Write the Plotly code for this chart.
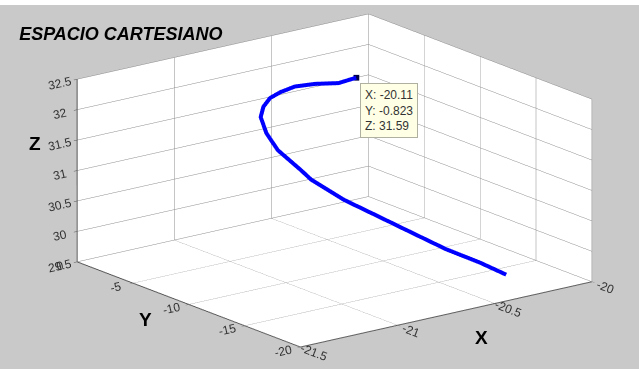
import plotly.graph_objects as go

# Trajectory waypoints in Cartesian space
x_vals = [-20.11, -20.235, -20.39, -20.54, -20.66, -20.76, -20.84, -20.90, -20.94,
          -20.95, -20.90, -20.87, -20.77, -20.66, -20.56, -20.45, -20.35, -20.28]
y_vals = [-0.823, -1.4, -2.0, -2.8, -3.6, -4.4, -5.2, -6.0, -7.2,
          -8.4, -9.6, -10.0, -11.2, -12.4, -13.6, -14.8, -16.0, -17.2]
z_vals = [31.59, 31.63, 31.77, 31.89, 31.94, 31.97, 31.94, 31.87, 31.72,
          31.53, 31.25, 31.10, 30.78, 30.51, 30.26, 29.99, 29.79, 29.62]

x_ticks = [-21.5, -21, -20.5, -20]
y_ticks = [-20, -15, -10, -5, 0]
z_ticks = [29.5, 30, 30.5, 31, 31.5, 32, 32.5]

# Highlighted point (data tip)
tip_x, tip_y, tip_z = -20.11, -0.823, 31.59

GRAY = "#c9c9c9"
FONT = "Liberation Sans, Arial, sans-serif"

fig = go.Figure()
fig.add_trace(go.Scatter3d(
    x=x_vals, y=y_vals, z=z_vals,
    mode="lines",
    line=dict(color="#0000ff", width=8),
    showlegend=False,
))
fig.add_trace(go.Scatter3d(
    x=[tip_x], y=[tip_y], z=[tip_z],
    mode="markers",
    marker=dict(color="#000044", size=3, symbol="square"),
    showlegend=False,
))


def axis(rng, ticks):
    return dict(
        title=dict(text=""),
        range=rng,
        tickvals=ticks,
        ticktext=[f"{t:g}" for t in ticks],
        tickfont=dict(size=12, color="#333333", family=FONT),
        showbackground=True,
        backgroundcolor="white",
        gridcolor="#8c8c8c",
        gridwidth=1,
        showline=True,
        linecolor="#555555",
        linewidth=2,
        ticks="outside",
        ticklen=4,
        tickcolor="#555555",
        zeroline=False,
        showspikes=False,
        autorange=False,
    )


axis_title_font = dict(size=19, color="black", family=FONT)
r = 2.0
box = 1.99 * 369 / 361

fig.update_layout(
    width=639, height=369,
    margin=dict(l=0, r=0, t=0, b=0),
    paper_bgcolor=GRAY,
    font=dict(family=FONT),
    title=dict(
        text="<b><i>ESPACIO CARTESIANO</i></b>",
        font=dict(size=18, color="black", family=FONT),
        x=0.03, xanchor="left", y=0.91, yanchor="middle",
    ),
    scene=dict(
        domain=dict(x=[30 / 639, 1.0], y=[8 / 369, 1.0]),
        bgcolor=GRAY,
        xaxis=axis([-21.5, -20], x_ticks),
        yaxis=axis([-20, 0], y_ticks),
        zaxis=axis([29.5, 32.5], z_ticks),
        aspectmode="manual",
        aspectratio=dict(x=box, y=box, z=0.52 * box),
        camera=dict(
            projection=dict(type="orthographic"),
            eye=dict(x=-0.581 * r, y=-0.758 * r, z=0.292 * r),
            up=dict(x=0, y=0, z=1),
            center=dict(x=0, y=0, z=0),
        ),
        annotations=[dict(
            x=tip_x, y=tip_y, z=tip_z,
            text="X: -20.11<br>Y: -0.823<br>Z: 31.59",
            showarrow=False,
            xanchor="left", yanchor="top",
            xshift=4, yshift=-5,
            align="left",
            font=dict(size=12, color="#333333", family=FONT),
            bgcolor="#ffffe6",
            bordercolor="#b0b0a0",
            borderwidth=1,
            borderpad=4,
        )],
    ),
    annotations=[
        dict(text="<b>X</b>", x=490 / 639, y=1 - 350 / 369, xref="paper", yref="paper",
             showarrow=False, font=axis_title_font),
        dict(text="<b>Y</b>", x=137 / 639, y=1 - 332 / 369, xref="paper", yref="paper",
             showarrow=False, font=axis_title_font),
        dict(text="<b>Z</b>", x=27 / 639, y=1 - 143 / 369, xref="paper", yref="paper",
             showarrow=False, font=axis_title_font),
    ],
    shapes=[dict(type="rect", xref="paper", yref="paper",
                 x0=0, x1=1, y0=1 - 5 / 369, y1=1,
                 fillcolor="white", line=dict(width=0), layer="above")],
)

fig.write_html("out.html")
